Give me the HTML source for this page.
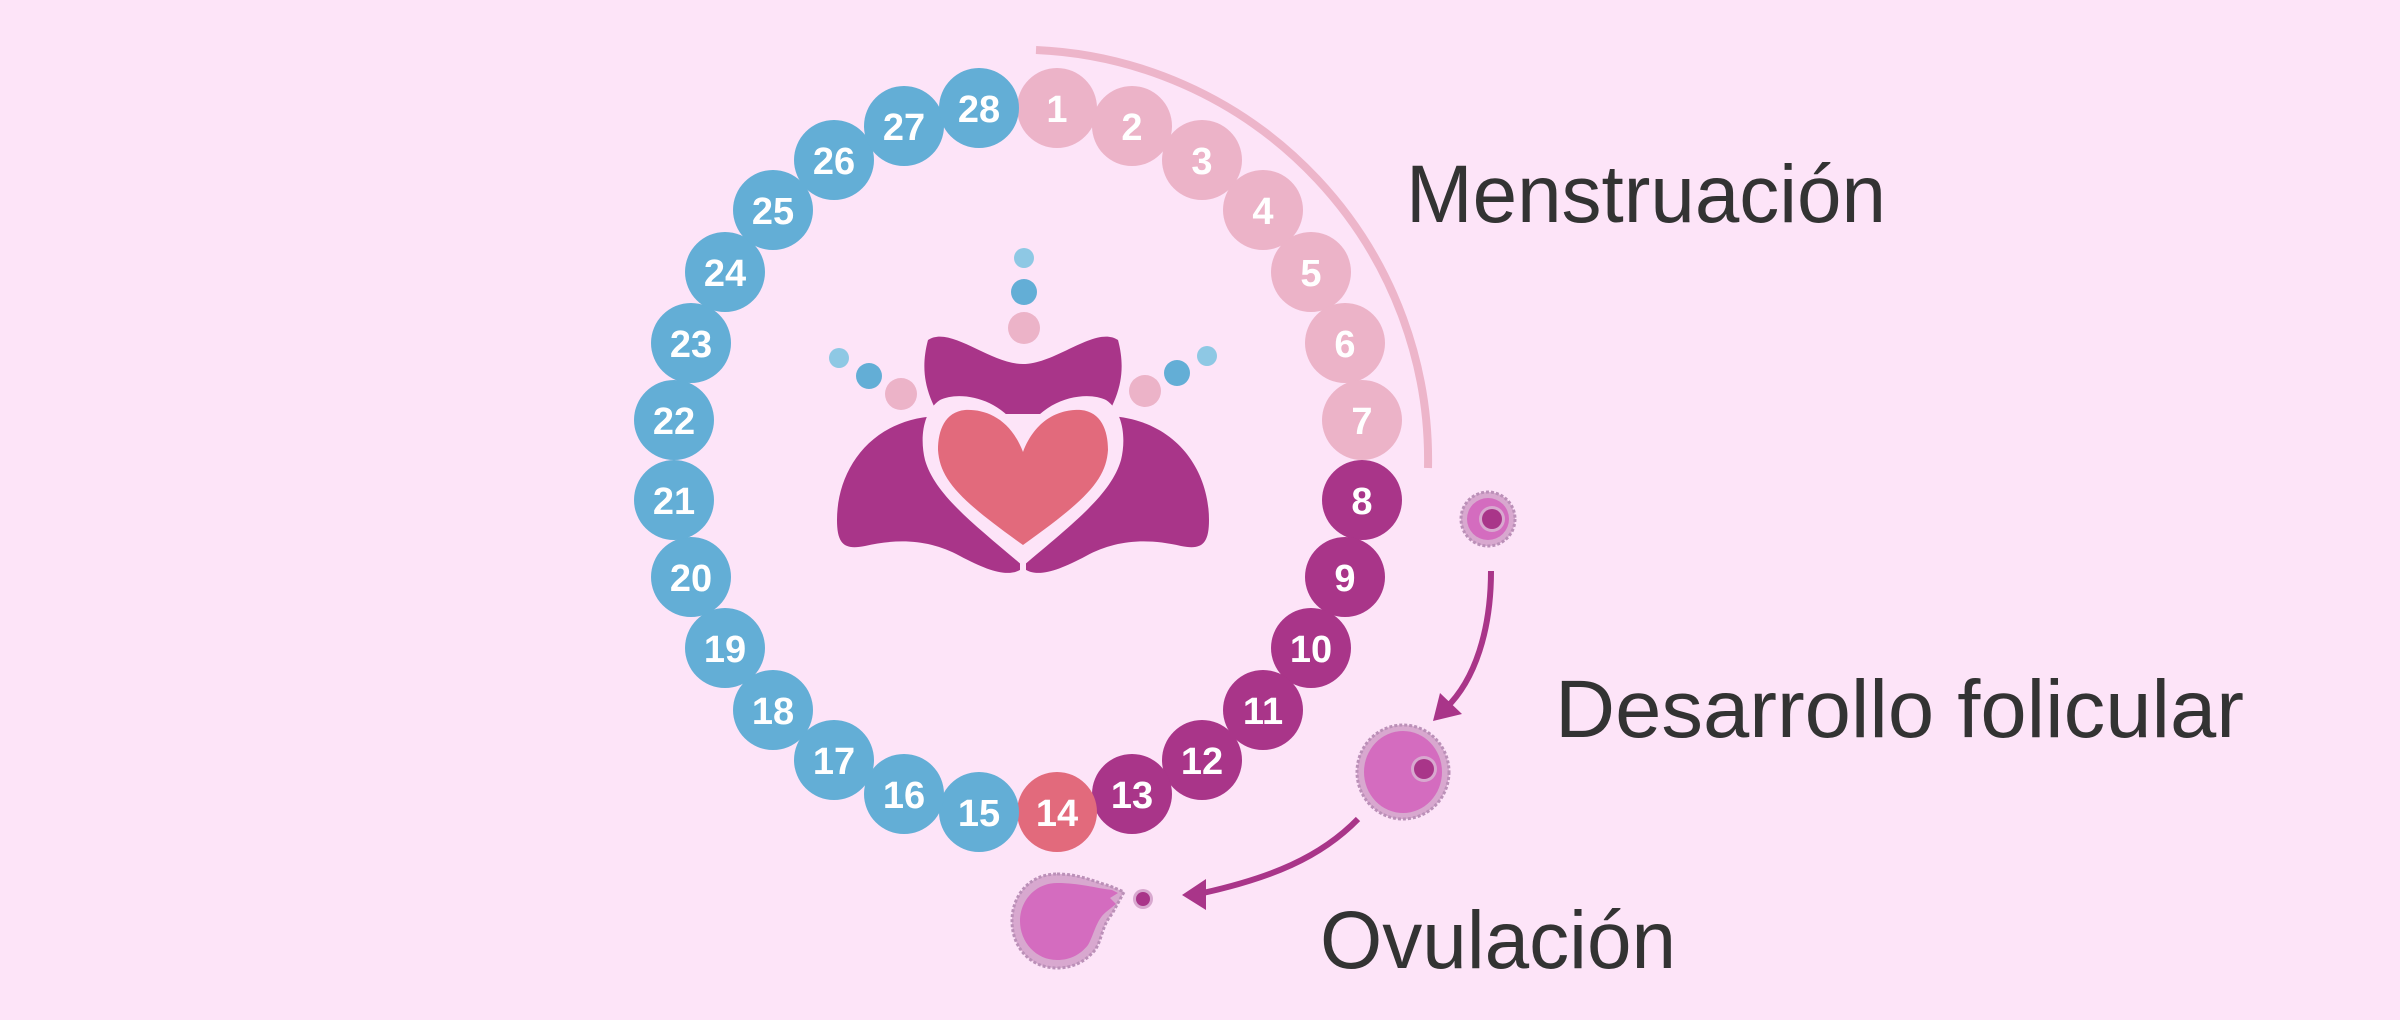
<!DOCTYPE html>
<html><head><meta charset="utf-8"><style>
html,body{margin:0;padding:0;background:#fde4f8;}
svg{display:block;}
</style></head><body>
<svg width="2400" height="1020" viewBox="0 0 2400 1020" xmlns="http://www.w3.org/2000/svg">
<rect width="2400" height="1020" fill="#fde4f8"/>
<path d="M 1036,50 A 410 410 0 0 1 1428,468" fill="none" stroke="#edb5ca" stroke-width="8"/>
<g font-family="'Liberation Sans', sans-serif" font-weight="bold" font-size="38" fill="#fff" text-anchor="middle">
<g fill="#ecb3c8">
<circle cx="1057" cy="108" r="40"/><circle cx="1132" cy="126" r="40"/><circle cx="1202" cy="160" r="40"/><circle cx="1263" cy="210" r="40"/><circle cx="1311" cy="272" r="40"/><circle cx="1345" cy="343" r="40"/><circle cx="1362" cy="420" r="40"/>
</g>
<g fill="#a93589">
<circle cx="1362" cy="500" r="40"/><circle cx="1345" cy="577" r="40"/><circle cx="1311" cy="648" r="40"/><circle cx="1263" cy="710" r="40"/><circle cx="1202" cy="760" r="40"/><circle cx="1132" cy="794" r="40"/>
</g>
<circle cx="1057" cy="812" r="40" fill="#e26a7c"/>
<g fill="#63aed6">
<circle cx="979" cy="812" r="40"/><circle cx="904" cy="794" r="40"/><circle cx="834" cy="760" r="40"/><circle cx="773" cy="710" r="40"/><circle cx="725" cy="648" r="40"/><circle cx="691" cy="577" r="40"/><circle cx="674" cy="500" r="40"/><circle cx="674" cy="420" r="40"/><circle cx="691" cy="343" r="40"/><circle cx="725" cy="272" r="40"/><circle cx="773" cy="210" r="40"/><circle cx="834" cy="160" r="40"/><circle cx="904" cy="126" r="40"/><circle cx="979" cy="108" r="40"/>
</g>
<text x="1057" y="122">1</text><text x="1132" y="140">2</text><text x="1202" y="174">3</text><text x="1263" y="224">4</text><text x="1311" y="286">5</text><text x="1345" y="357">6</text><text x="1362" y="434">7</text>
<text x="1362" y="514">8</text><text x="1345" y="591">9</text><text x="1311" y="662">10</text><text x="1263" y="724">11</text><text x="1202" y="774">12</text><text x="1132" y="808">13</text><text x="1057" y="826">14</text>
<text x="979" y="826">15</text><text x="904" y="808">16</text><text x="834" y="774">17</text><text x="773" y="724">18</text><text x="725" y="662">19</text><text x="691" y="591">20</text><text x="674" y="514">21</text><text x="674" y="434">22</text><text x="691" y="357">23</text><text x="725" y="286">24</text><text x="773" y="224">25</text><text x="834" y="174">26</text><text x="904" y="140">27</text><text x="979" y="122">28</text>
</g>
<circle cx="1024" cy="258" r="10" fill="#8ec8e4"/>
<circle cx="1024" cy="292" r="13" fill="#63aed6"/>
<circle cx="1024" cy="328" r="16" fill="#ecb3c8"/>
<circle cx="839" cy="358" r="10" fill="#8ec8e4"/>
<circle cx="869" cy="376" r="13" fill="#63aed6"/>
<circle cx="901" cy="394" r="16" fill="#ecb3c8"/>
<circle cx="1207" cy="356" r="10" fill="#8ec8e4"/>
<circle cx="1177" cy="373" r="13" fill="#63aed6"/>
<circle cx="1145" cy="391" r="16" fill="#ecb3c8"/>
<g fill="#a93589">
<path d="M 928,340 C 950,325 990,364 1023,364 C 1056,364 1096,325 1118,340 C 1126,370 1120,392 1108,414 L 938,414 C 926,392 920,370 928,340 Z"/>
<path d="M 1023,568 L 936,416 C 870,420 837,470 837,520 C 837,545 845,550 865,546 C 900,538 930,540 960,556 C 990,572 1010,578 1023,568 Z"/>
<path d="M 1023,568 L 1110,416 C 1176,420 1209,470 1209,520 C 1209,545 1201,550 1181,546 C 1146,538 1116,540 1086,556 C 1056,572 1036,578 1023,568 Z"/>
</g>
<path d="M 1023,437 C 1005,398 960,390 940,400 C 922,412 920,440 925,460 C 935,495 975,525 1023,566 C 1071,525 1111,495 1121,460 C 1126,440 1124,412 1106,400 C 1086,390 1041,398 1023,437 Z" fill="#fde4f8"/>
<line x1="1023" y1="545" x2="1023" y2="580" stroke="#fde4f8" stroke-width="6"/>
<path d="M 1023,452 C 1010,418 985,409 965,410 C 945,412 938,430 938,450 C 940,480 960,500 1023,545 C 1086,500 1106,480 1108,450 C 1108,430 1101,412 1081,410 C 1061,409 1036,418 1023,452 Z" fill="#e26a7c"/>
<circle cx="1488" cy="519" r="27" fill="#d8a8cf" stroke="#bb90b8" stroke-width="3" stroke-dasharray="3 2"/>
<circle cx="1488" cy="519" r="21" fill="#d46cbf"/>
<circle cx="1492" cy="519" r="13" fill="#d8a8cf"/>
<circle cx="1492" cy="519" r="10" fill="#a93589"/>
<path d="M 1491,571 C 1491,630 1475,680 1446,708" fill="none" stroke="#a93589" stroke-width="6"/>
<polygon points="1433,721 1440,693 1462,714" fill="#a93589"/>
<ellipse cx="1403" cy="772" rx="46" ry="47" fill="#d8a8cf" stroke="#bb90b8" stroke-width="3" stroke-dasharray="3 2"/>
<ellipse cx="1403" cy="772" rx="39" ry="41" fill="#d46cbf"/>
<circle cx="1424" cy="769" r="13" fill="#d8a8cf"/>
<circle cx="1424" cy="769" r="10" fill="#a93589"/>
<path d="M 1358,819 C 1320,858 1270,878 1203,893" fill="none" stroke="#a93589" stroke-width="6"/>
<polygon points="1182,895 1206,879 1206,910" fill="#a93589"/>
<path d="M 1057,874 C 1080,874 1095,882 1110,886 L 1124,892 L 1112,914 C 1102,925 1102,940 1095,950 C 1085,962 1072,968 1057,968 C 1030,968 1012,947 1012,921 C 1012,895 1030,874 1057,874 Z" fill="#d8a8cf" stroke="#bb90b8" stroke-width="3" stroke-dasharray="3 2"/>
<path d="M 1057,883 C 1080,883 1095,888 1112,890 L 1118,893 L 1110,898 L 1116,904 L 1106,912 C 1096,920 1094,935 1088,945 C 1080,955 1070,960 1057,960 C 1036,960 1020,942 1020,921 C 1020,900 1036,883 1057,883 Z" fill="#d46cbf"/>
<circle cx="1143" cy="899" r="10" fill="#d8a8cf"/>
<circle cx="1143" cy="899" r="7" fill="#a93589"/>
<g font-family="'Liberation Sans', sans-serif" font-size="82" fill="#333">
<text x="1406" y="222" textLength="480" lengthAdjust="spacingAndGlyphs">Menstruación</text>
<text x="1555" y="737" textLength="689" lengthAdjust="spacingAndGlyphs">Desarrollo folicular</text>
<text x="1320" y="968" textLength="356" lengthAdjust="spacingAndGlyphs">Ovulación</text>
</g>
</svg>
</body></html>
